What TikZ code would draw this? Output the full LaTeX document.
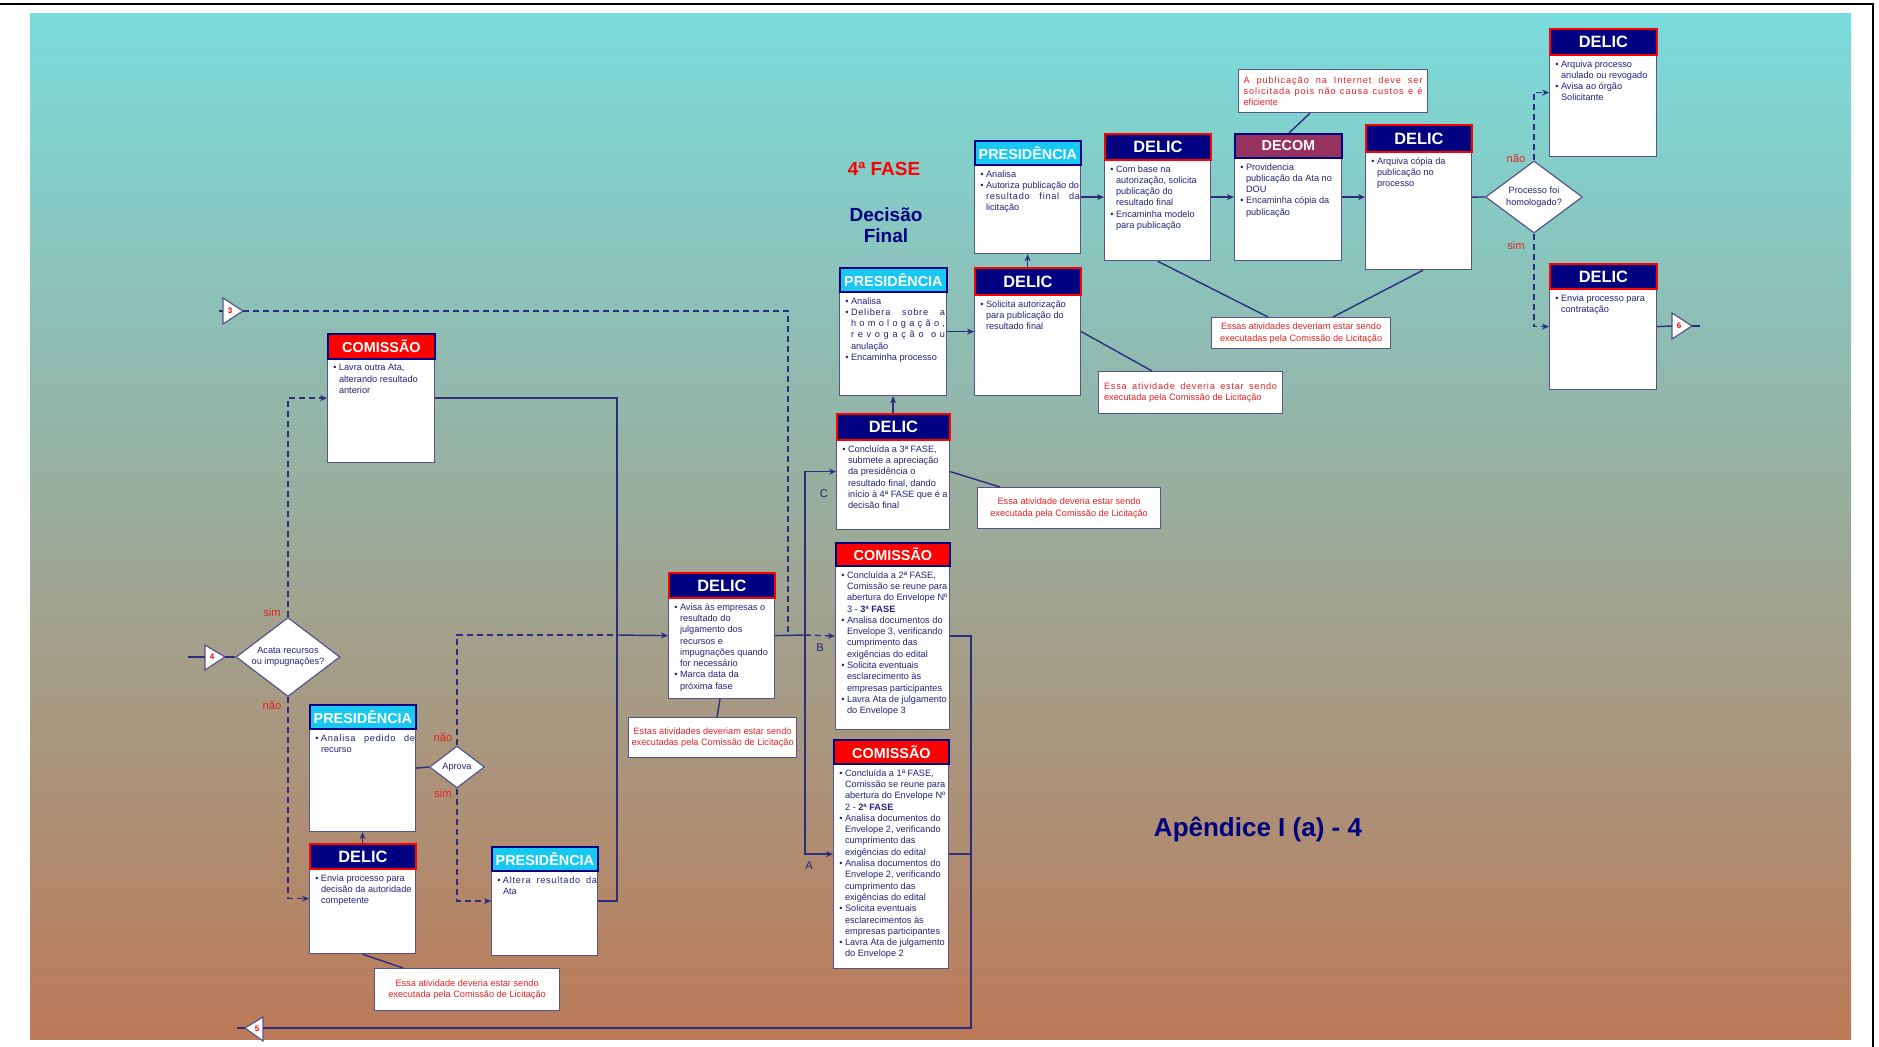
\documentclass[tikz,border=0pt]{standalone}
\usepackage{fontspec}
\setmainfont{Liberation Sans}
\usetikzlibrary{arrows.meta,calc,shapes.geometric}
\definecolor{navyA}{RGB}{0,0,128}
\definecolor{txtN}{RGB}{35,35,125}
\definecolor{lineN}{RGB}{45,45,125}
\definecolor{boxN}{RGB}{85,85,140}
\definecolor{presC}{RGB}{25,200,240}
\definecolor{decomC}{RGB}{150,50,95}
\definecolor{redN}{RGB}{230,35,35}
\definecolor{bgTop}{RGB}{122,220,220}
\definecolor{bgMid}{RGB}{158,172,152}
\definecolor{bgBot}{RGB}{188,122,88}
\newlength\bind
\setlength\bind{2.8pt}
\newcommand\bu{\makebox[\bind][l]{•}}
\newcommand\ii{\hspace*{\bind}}
\newcommand\spr[2][47pt]{\makebox[#1][s]{\addfontfeature{LetterSpace=8}#2}}
\tikzset{
 bodybox/.style={draw=boxN, fill=white, line width=0.6pt, inner sep=0pt},
 hdrbase/.style={inner sep=0pt, text=white, font=\bfseries\fontsize{7.2}{8}\selectfont, line width=0.9pt},
 delichdr/.style={hdrbase, fill=navyA, draw=red, font=\bfseries\fontsize{8.2}{9}\selectfont},
 comhdr/.style={hdrbase, fill=red, draw=navyA},
 preshdr/.style={hdrbase, fill=presC, draw=navyA},
 decomhdr/.style={hdrbase, fill=decomC, draw=navyA},
 bodytext/.style={inner sep=0pt, text=txtN, font=\fontsize{4.6}{5.65}\selectfont, align=left},
 conn/.style={draw=lineN, line width=0.7pt},
 arr/.style={conn, -{Stealth[length=3.5pt,width=3pt]}},
 dsh/.style={dash pattern=on 3pt off 2pt},
 notebox/.style={draw=boxN, fill=white, line width=0.6pt, inner sep=0pt, text=redN, font=\fontsize{4.6}{5.65}\selectfont, align=center, anchor=north west},
 dia/.style={diamond, draw=boxN, fill=white, inner sep=0pt, text=txtN, font=\fontsize{4.6}{5.8}\selectfont, align=center, line width=0.6pt},
 lbl/.style={text=redN, font=\fontsize{5.6}{6}\selectfont, inner sep=0pt},
 lblN/.style={text=txtN, font=\fontsize{5.6}{6}\selectfont, inner sep=0pt},
 mk/.style={text=red, font=\bfseries\fontsize{4}{4}\selectfont, inner sep=0pt},
 mktri/.style={draw=boxN, fill=white, line width=0.6pt},
}
\newcommand\actbox[9]{%
  \pgfmathsetmacro\abW{(#4-#2)*0.5}%
  \pgfmathsetmacro\abH{(#5-#3)*0.5}%
  \pgfmathsetmacro\abHH{#6*0.5}%
  \node[bodybox, anchor=north west, minimum width=\abW pt, minimum height=\abH pt] (#1) at (#2,#3) {};
  \node[#7, anchor=north west, minimum width=\abW pt, minimum height=\abHH pt] (#1h) at (#2,#3) {#8};
  \node[bodytext, anchor=north west] (#1t) at ($(#2,#3)+(6,#6+6)$) {#9};
}
\begin{document}
\begin{tikzpicture}[x=0.5pt,y=-0.5pt]
\useasboundingbox (0,0) rectangle (1879,1047);
\fill[white] (0,0) rectangle (1879,1047);
\shade[top color=bgTop, middle color=bgMid, bottom color=bgBot] (30,14) rectangle (1851,1039);
\draw[black, line width=1.2pt] (0,4) -- (1873,4) -- (1873,1047);

% ---------- boxes ----------
\actbox{ca}{327}{333}{434}{462}{25}{comhdr}{COMISSÃO}{\bu Lavra outra Ata,\\\ii alterando resultado\\\ii anterior}
\actbox{cb}{309}{704}{415}{831}{24}{preshdr}{PRESIDÊNCIA}{\bu\spr{Analisa pedido de}\\\ii recurso}
\actbox{cc}{309}{843}{415}{953}{25}{delichdr}{DELIC}{\bu Envia processo para\\\ii decisão da autoridade\\\ii competente}
\actbox{cd}{491}{846}{597}{955}{24}{preshdr}{PRESIDÊNCIA}{\bu\spr{Altera resultado da}\\\ii Ata}
\actbox{ce}{668}{572}{774}{698}{25}{delichdr}{DELIC}{\bu Avisa às empresas o\\\ii resultado do\\\ii julgamento dos\\\ii recursos e\\\ii impugnações quando\\\ii for necessário\\\bu Marca data da\\\ii próxima fase}
\actbox{cf}{835}{542}{949}{729}{23}{comhdr}{COMISSÃO}{\bu Concluída a 2ª FASE,\\\ii Comissão se reune para\\\ii abertura do Envelope Nº\\\ii 3 - \textbf{3ª FASE}\\\bu Analisa documentos do\\\ii Envelope 3, verificando\\\ii cumprimento das\\\ii exigências do edital\\\bu Solicita eventuais\\\ii esclarecimento às\\\ii empresas participantes\\\bu Lavra Ata de julgamento\\\ii do Envelope 3}
\actbox{cg}{833}{739}{948}{968}{24}{comhdr}{COMISSÃO}{\bu Concluída a 1ª FASE,\\\ii Comissão se reune para\\\ii abertura do Envelope Nº\\\ii 2 - \textbf{2ª FASE}\\\bu Analisa documentos do\\\ii Envelope 2, verificando\\\ii cumprimento das\\\ii exigências do edital\\\bu Analisa documentos do\\\ii Envelope 2, verificando\\\ii cumprimento das\\\ii exigências do edital\\\bu Solicita eventuais\\\ii esclarecimentos às\\\ii empresas participantes\\\bu Lavra Ata de julgamento\\\ii do Envelope 2}
\actbox{ch}{836}{413}{949}{529}{26}{delichdr}{DELIC}{\bu Concluída a 3ª FASE,\\\ii submete a apreciação\\\ii da presidência o\\\ii resultado final, dando\\\ii início à 4ª FASE que é a\\\ii decisão final}
\actbox{ci}{839}{267}{946}{395}{24}{preshdr}{PRESIDÊNCIA}{\bu Analisa\\\bu\spr{Delibera sobre a}\\\ii\spr{h o m o l o g a ç ã o ,}\\\ii\spr{r e v o g a ç ã o \ o u}\\\ii anulação\\\bu Encaminha processo}
\actbox{cj}{974}{267}{1080}{395}{27}{delichdr}{DELIC}{\bu Solicita autorização\\\ii para publicação do\\\ii resultado final}
\actbox{ck}{974}{140}{1080}{253}{24}{preshdr}{PRESIDÊNCIA}{\bu Analisa\\\bu Autoriza publicação do\\\ii\spr{resultado final da}\\\ii licitação}
\actbox{cl}{1104}{133}{1210}{260}{26}{delichdr}{DELIC}{\bu Com base na\\\ii autorização, solicita\\\ii publicação do\\\ii resultado final\\\bu Encaminha modelo\\\ii para publicação}
\actbox{cm}{1234}{133}{1341}{260}{24}{decomhdr}{DECOM}{\bu Providencia\\\ii publicação da Ata no\\\ii DOU\\\bu Encaminha cópia da\\\ii publicação}
\actbox{cn}{1365}{124}{1471}{269}{27}{delichdr}{DELIC}{\bu Arquiva cópia da\\\ii publicação no\\\ii processo}
\actbox{co}{1549}{28}{1656}{156}{26}{delichdr}{DELIC}{\bu Arquiva processo\\\ii anulado ou revogado\\\bu Avisa ao órgão\\\ii Solicitante}
\actbox{cp}{1549}{263}{1656}{389}{25}{delichdr}{DELIC}{\bu Envia processo para\\\ii contratação}

% ---------- notes ----------
\node[notebox, minimum width=92.5pt, minimum height=21pt] (n1) at (374,968) {Essa atividade deveria estar sendo\\executada pela Comissão de Licitação};
\node[notebox, minimum width=84pt, minimum height=20pt] (n2) at (628,717) {Estas atividades deveriam estar sendo\\executadas pela Comissão de Licitação};
\node[notebox, minimum width=91.5pt, minimum height=20.5pt] (n3) at (977,487) {Essa atividade deveria estar sendo\\executada pela Comissão de Licitação};
\node[notebox, align=left, minimum width=92pt, minimum height=21pt] (n4) at (1098,371) {\makebox[86.5pt][s]{\addfontfeature{LetterSpace=8}Essa atividade deveria estar sendo}\\executada pela Comissão de Licitação};
\node[notebox, minimum width=89.5pt, minimum height=15.5pt] (n5) at (1211,317) {Essas atividades deveriam estar sendo\\executadas pela Comissão de Licitação};
\node[notebox, align=left, minimum width=94.5pt, minimum height=21.5pt] (n6) at (1238,69) {\makebox[89.5pt][s]{\addfontfeature{LetterSpace=10}A publicação na Internet deve ser}\\\makebox[89.5pt][s]{\addfontfeature{LetterSpace=10}solicitada pois não causa custos e é}\\eficiente};

% ---------- decisions ----------
\node[dia, minimum width=52pt, minimum height=39.5pt, aspect=1.32] (d1) at (288,657) {Acata recursos\\ou impugnações?};
\node[dia, minimum width=27.5pt, minimum height=21pt, aspect=1.3] (d2) at (457,767) {Aprova};
\node[dia, minimum width=48.5pt, minimum height=36pt, aspect=1.35] (d3) at (1534,197) {Processo foi\\homologado?};

% ---------- markers ----------
\draw[mktri] (223,298) -- (243,311) -- (223,324) -- cycle;
\node[mk] (m3) at (230,311) {3};
\coordinate (m3l) at (223,311); \coordinate (m3r) at (243,311); \coordinate (m3s) at (219,311);
\draw[mktri] (205,645) -- (225,657) -- (205,670) -- cycle;
\node[mk] (m4) at (212,657) {4};
\coordinate (m4l) at (205,657); \coordinate (m4r) at (225,657); \coordinate (m4s) at (188,657);
\draw[mktri] (245,1028) -- (263,1017) -- (263,1041) -- cycle;
\node[mk] (m5) at (257,1029) {5};
\coordinate (m5l) at (245,1028); \coordinate (m5r) at (263,1028); \coordinate (m5s) at (237,1028);
\draw[mktri] (1672,313) -- (1692,326) -- (1672,339) -- cycle;
\node[mk] (m6) at (1679,326) {6};
\coordinate (m6l) at (1672,326); \coordinate (m6r) at (1692,326); \coordinate (m6s) at (1700,326);

% ---------- junctions ----------
\coordinate (j1) at (617,635);
\coordinate (j2) at (788,635);
\coordinate (j3) at (805,635);
\coordinate (j4) at (971,1028);

% ---------- connectors ----------
\draw[conn] (m4s) -- (m4l);
\draw[conn] (m4r) -- (d1.west);
\draw[arr,dsh] (d1.north) |- (ca.west);
\draw[arr,dsh] (d1.south) |- (cc.west);
\draw[arr] (cc.north) -- (cb.south);
\draw[conn] (cb.east) -- (d2.west);
\draw[conn,dsh] (d2.north) |- (j1);
\draw[arr,dsh] (d2.south) |- (cd.west);
\draw[conn] (ca.east) -| (j1);
\draw[conn] (cd.east) -| (j1);
\draw[arr] (j1) -- (ce.west);
\draw[conn] (cc.south) -- ($(n1.north west)+(29,0)$);
\draw[conn] ($(ce.south west)+(52,0)$) -- ($(n2.north west)+(89,0)$);
\draw[conn] (m3s) -- (m3l);
\draw[conn,dsh] (m3r) -| (j2);
\draw[conn] (ce.east) -- (j3);
\draw[arr,dsh] (j3) -- (cf.west);
\draw[arr] (j3) |- (ch.west);
\draw[arr] (j3) |- (cg.west);
\draw[conn] (cf.east) -| (j4) -- (m5r);
\draw[conn] (cg.east) -- (cg.east -| j4);
\draw[conn] (m5l) -- (m5s);
\draw[arr] (ch.north) -- (ci.south);
\draw[conn] (ch.east) -- ($(n3.north west)+(23,0)$);
\draw[arr] (ci.east) -- (cj.west);
\draw[arr] (cj.north) -- (ck.south);
\draw[conn] (cj.east) -- ($(n4.north west)+(54,0)$);
\draw[arr] (ck.east) -- (cl.west);
\draw[arr] (cl.east) -- (cm.west);
\draw[arr] (cm.east) -- (cn.west);
\draw[conn] ($(cm.north west)+(55,0)$) -- ($(n6.south west)+(72,0)$);
\draw[conn] (cl.south) -- ($(n5.north west)+(57,0)$);
\draw[conn] ($(cn.south west)+(58,0)$) -- ($(n5.north west)+(122,0)$);
\draw[conn] (cn.east) -- (d3.west);
\draw[arr,dsh] (d3.north) |- (co.west);
\draw[arr,dsh] (d3.south) |- (cp.west);
\draw[conn] (cp.east) -- (m6l);
\draw[conn] (m6r) -- (m6s);

% ---------- labels ----------
\node[lbl] (ls1) at (272,612) {sim};
\node[lbl] (ln1) at (272,706) {não};
\node[lbl] (ln2) at (443,738) {não};
\node[lbl] (ls2) at (443,793) {sim};
\node[lbl] (ln3) at (1516,159) {não};
\node[lbl] (ls3) at (1516,246) {sim};
\node[lblN] (lB) at (820,648) {B};
\node[lblN] (lC) at (824,494) {C};
\node[lblN] (lA) at (809,866) {A};

% ---------- titles ----------
\node[text=red, font=\bfseries\fontsize{9.5}{11}\selectfont, inner sep=0pt] (t4) at (884,169) {4ª FASE};
\node[text=navyA, font=\bfseries\fontsize{9.5}{10.5}\selectfont, align=center, inner sep=0pt] (tdf) at (886,225) {Decisão\\Final};
\node[text=navyA, font=\bfseries\fontsize{13}{15}\selectfont, inner sep=0pt] (tap) at (1258,829) {Apêndice I (a) - 4};
\end{tikzpicture}
\end{document}
